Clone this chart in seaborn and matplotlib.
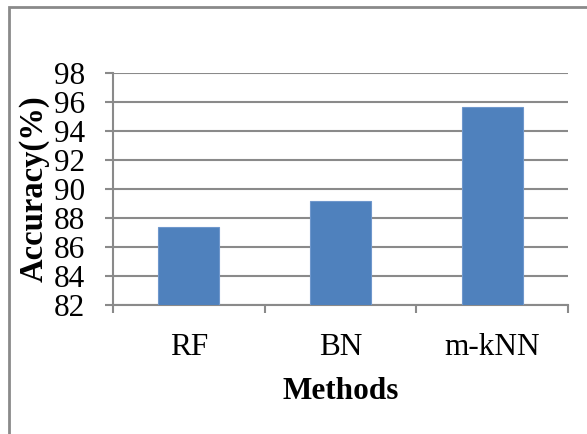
import matplotlib
matplotlib.use("Agg")
import matplotlib.pyplot as plt
import seaborn as sns
import pandas as pd
from matplotlib.patches import Rectangle

methods = ["RF", "BN", "m-kNN"]
accuracy = [87.4, 89.2, 95.65]
yticks = [82, 84, 86, 88, 90, 92, 94, 96, 98]

df = pd.DataFrame({"Methods": methods, "Accuracy": accuracy})

sns.set_style("white")
plt.rcParams["font.family"] = ["Liberation Serif", "DejaVu Serif"]
plt.rcParams["text.color"] = "black"
plt.rcParams["xtick.color"] = "black"
plt.rcParams["ytick.color"] = "black"
plt.rcParams["axes.labelcolor"] = "black"

fig = plt.figure(figsize=(5.87, 4.34), dpi=100)
ax = fig.add_axes([113 / 587, 1 - 305 / 434, (568 - 113) / 587, (305 - 73) / 434])

sns.barplot(data=df, x="Methods", y="Accuracy", color="#4F81BD", width=0.4,
            saturation=1, ax=ax, zorder=3, edgecolor="#6f97cc", linewidth=0.8)

grey = "#8a8a8a"
ax.set_ylim(82, 98)
ax.set_xlim(-0.5, 2.5)
ax.set_yticks(yticks)
ax.set_yticklabels([str(v) for v in yticks], fontsize=22.5)
ax.tick_params(axis="x", which="major", bottom=False, length=0, labelsize=22.5, pad=20)
ax.set_xticks([-0.5, 0.5, 1.5, 2.5], minor=True)
ax.tick_params(axis="x", which="minor", bottom=True, length=6, width=1.5, color=grey, direction="out")
ax.tick_params(axis="y", left=True, length=6, width=1.5, color=grey, labelcolor="black",
               direction="out", pad=14)
ax.yaxis.grid(True, color=grey, linewidth=1.5, zorder=0)
ax.set_axisbelow(True)

for s in ["top", "right"]:
    ax.spines[s].set_visible(False)
for s in ["left", "bottom"]:
    ax.spines[s].set_color(grey)
    ax.spines[s].set_linewidth(1.5)

ax.set_xlabel("Methods", fontsize=22.5, fontweight="bold", labelpad=11)
ax.set_ylabel("Accuracy(%)", fontsize=23.5, fontweight="bold", labelpad=3)

fig.patches.append(Rectangle((9 / 587, -0.1), 1.2, 1.1 - 7 / 434, transform=fig.transFigure,
                             fill=False, edgecolor=grey, linewidth=2))

fig.savefig("out.png", dpi=100)
